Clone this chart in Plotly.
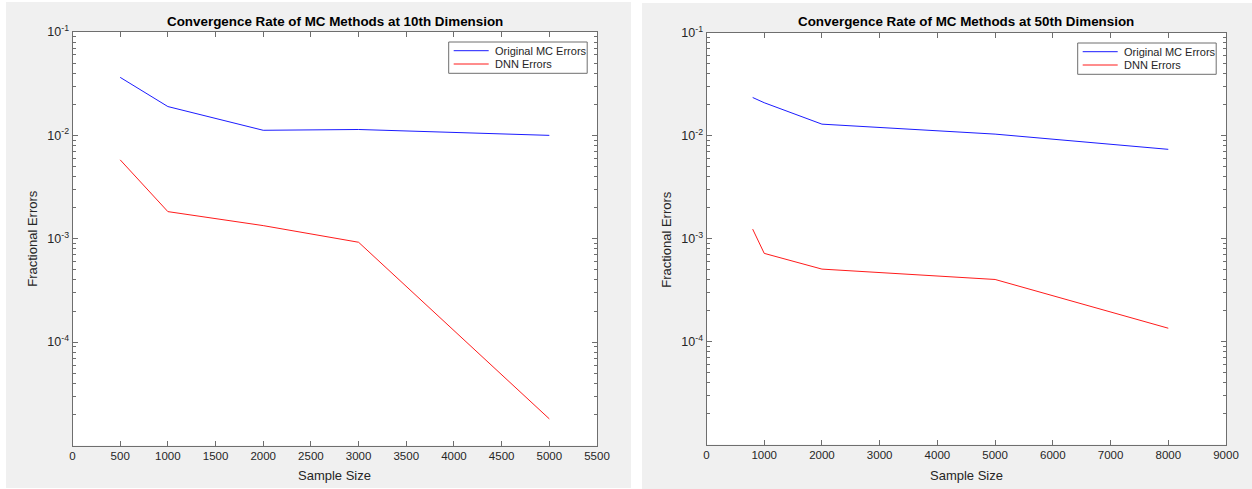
import plotly.graph_objects as go

# ---- data -------------------------------------------------------------
series_names = ["Original MC Errors", "DNN Errors"]

dim10_sizes = [500, 1000, 2000, 3000, 5000]
dim10_mc_err = [0.0364, 0.0190, 0.0112, 0.0114, 0.0100]
dim10_dnn_err = [0.0058, 0.00183, 0.00134, 0.000925, 0.0000181]

dim50_sizes = [800, 1000, 2000, 5000, 8000]
dim50_mc_err = [0.0236, 0.0210, 0.0130, 0.0104, 0.0074]
dim50_dnn_err = [0.00124, 0.000721, 0.000507, 0.000402, 0.000135]

titles = ["Convergence Rate of MC Methods at 10th Dimension",
          "Convergence Rate of MC Methods at 50th Dimension"]
x_label = "Sample Size"
y_label = "Fractional Errors"

y_tick_vals = [1e-4, 1e-3, 1e-2, 1e-1]
y_tick_text = ["10<sup>-4</sup>", "10<sup>-3</sup>", "10<sup>-2</sup>", "10<sup>-1</sup>"]

# ---- styling ----------------------------------------------------------
W, H = 1252, 489
FONT = "Liberation Sans, Arial, Helvetica, sans-serif"
TEXT = "#262626"
AXIS = "#6e6e6e"
PANEL = "#f0f0f0"
BLUE = "#0000ff"
RED = "#ff0000"
colors = [BLUE, RED]


def fx(x):
    return x / W


def fy(y):
    return 1 - y / H


# minor log ticks 2..9 in each decade
minor_vals = [m * 10.0 ** e for e in range(-5, -1) for m in range(2, 10)]

panels = [
    dict(sizes=dim10_sizes, ys=[dim10_mc_err, dim10_dnn_err], title=titles[0],
         xdom=(72.5, 597), ydom=(32, 445.5), xmax=5500, dtick=500,
         bg=(6, 2, 631, 488)),
    dict(sizes=dim50_sizes, ys=[dim50_mc_err, dim50_dnn_err], title=titles[1],
         xdom=(706.5, 1226), ydom=(33, 444.5), xmax=9000, dtick=1000,
         bg=(642, 3, 1252, 489)),
]

fig = go.Figure()
shapes = []
annotations = []

for i, p in enumerate(panels, start=1):
    xa = "x" if i == 1 else f"x{i}"
    ya = "y" if i == 1 else f"y{i}"
    for name, vals, col in zip(series_names, p["ys"], colors):
        fig.add_trace(go.Scatter(
            x=p["sizes"], y=vals, mode="lines", name=name,
            line=dict(color=col, width=0.9), showlegend=False,
            xaxis=xa, yaxis=ya,
        ))

    x0, x1 = p["xdom"]
    y0, y1 = p["ydom"]
    axis_common = dict(
        showline=True, linecolor=AXIS, linewidth=1, mirror="allticks",
        ticks="inside", tickcolor=AXIS, ticklen=5, tickwidth=1,
        showgrid=False, zeroline=False, automargin=False,
    )
    fig.layout[f"xaxis{'' if i == 1 else i}"] = dict(
        domain=[fx(x0), fx(x1)], anchor=ya, range=[0, p["xmax"]],
        tickmode="linear", tick0=0, dtick=p["dtick"],
        tickfont=dict(family=FONT, size=11.5, color=TEXT),
        **axis_common,
    )
    fig.layout[f"yaxis{'' if i == 1 else i}"] = dict(
        domain=[fy(y1), fy(y0)], anchor=xa, type="log", range=[-5, -1],
        tickmode="array", tickvals=y_tick_vals, ticktext=y_tick_text,
        tickfont=dict(family=FONT, size=12.5, color=TEXT),
        minor=dict(tickmode="array", tickvals=minor_vals, ticks="inside",
                   ticklen=3, tickcolor=AXIS, showgrid=False),
        **axis_common,
    )

    # panel background and white plotting area
    bx0, by0, bx1, by1 = p["bg"]
    shapes.append(dict(type="rect", xref="paper", yref="paper",
                       x0=fx(bx0), x1=fx(bx1), y0=fy(by1), y1=fy(by0),
                       fillcolor=PANEL, line=dict(width=0), layer="below"))
    shapes.append(dict(type="rect", xref="paper", yref="paper",
                       x0=fx(x0), x1=fx(x1), y0=fy(y1), y1=fy(y0),
                       fillcolor="white", line=dict(width=0), layer="below"))

    # titles
    cx = (x0 + x1) / 2
    annotations.append(dict(text=f"<b>{p['title']}</b>", x=fx(cx), y=fy(21.5),
                            xref="paper", yref="paper", showarrow=False,
                            xanchor="center", yanchor="middle",
                            font=dict(family=FONT, size=13.4, color="#000000")))
    annotations.append(dict(text=x_label, x=fx(cx), y=fy(475.5),
                            xref="paper", yref="paper", showarrow=False,
                            xanchor="center", yanchor="middle",
                            font=dict(family=FONT, size=13, color=TEXT)))
    annotations.append(dict(text=y_label, x=fx(x0 - 39.5), y=fy((y0 + y1) / 2),
                            xref="paper", yref="paper", showarrow=False,
                            textangle=-90, xanchor="center", yanchor="middle",
                            font=dict(family=FONT, size=13, color=TEXT)))

    # boxed legend in the upper-right corner of each axes
    lx1 = x1 - 9.8
    lx0 = lx1 - 138.5
    ly0 = y0 + 10
    ly1 = ly0 + 31.3
    shapes.append(dict(type="rect", xref="paper", yref="paper",
                       x0=fx(lx0), x1=fx(lx1), y0=fy(ly1), y1=fy(ly0),
                       fillcolor="white", line=dict(color=AXIS, width=1),
                       layer="above"))
    for k, (name, col) in enumerate(zip(series_names, colors)):
        ry = ly0 + 8.7 + k * 13.3
        shapes.append(dict(type="line", xref="paper", yref="paper",
                           x0=fx(lx0 + 5), x1=fx(lx0 + 40), y0=fy(ry), y1=fy(ry),
                           line=dict(color=col, width=0.9), layer="above"))
        annotations.append(dict(text=name, x=fx(lx0 + 44), y=fy(ry),
                                xref="paper", yref="paper", showarrow=False,
                                xanchor="left", yanchor="middle",
                                font=dict(family=FONT, size=11, color=TEXT)))

fig.update_layout(
    width=W, height=H, margin=dict(l=0, r=0, t=0, b=0, autoexpand=False),
    paper_bgcolor="white", plot_bgcolor="rgba(0,0,0,0)",
    shapes=shapes, annotations=annotations, showlegend=False,
)

fig.write_html("out.html")
